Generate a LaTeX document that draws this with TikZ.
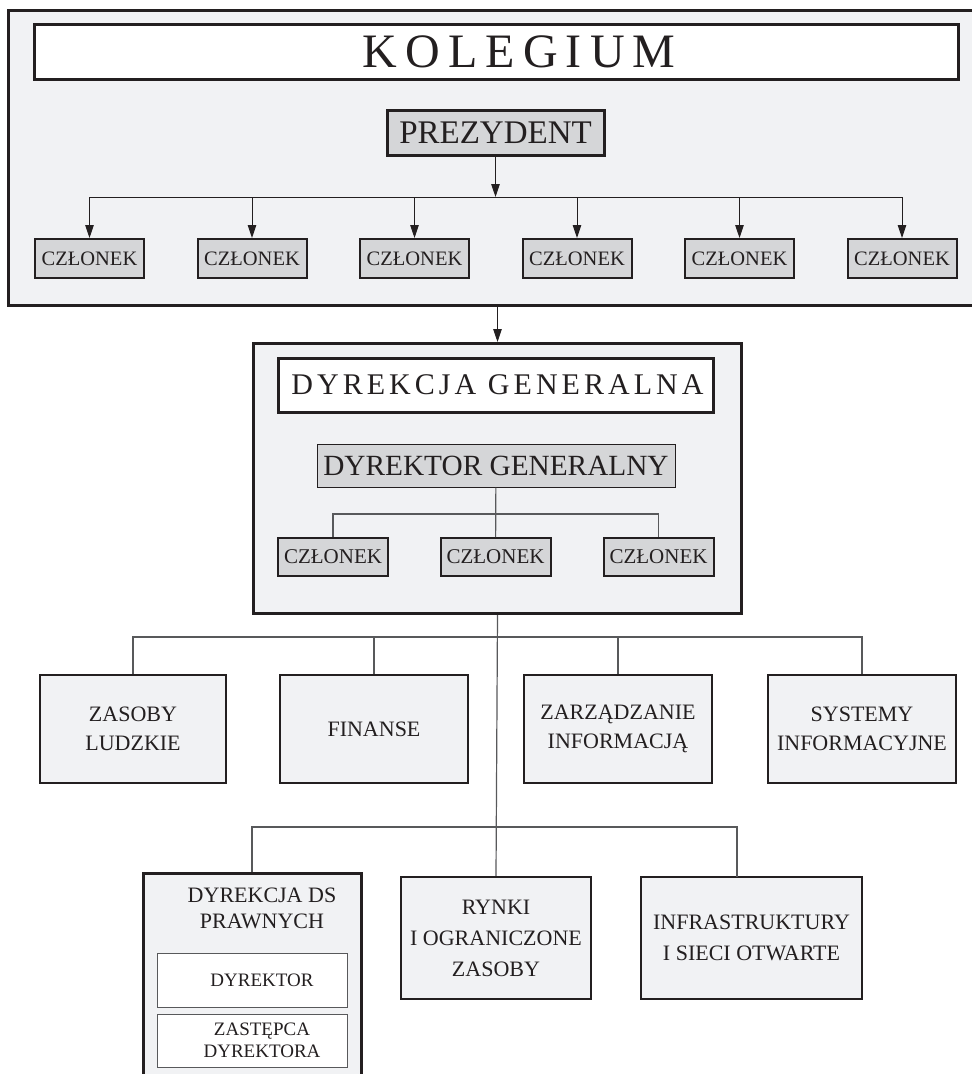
\documentclass[tikz,border=0pt]{standalone}
\usepackage{fontspec}
\setmainfont{Liberation Serif}
\newfontfamily\kolfont[LetterSpace=17]{Liberation Serif}
\newfontfamily\dgfont[LetterSpace=13.5]{Liberation Serif}
\usetikzlibrary{arrows.meta,positioning}
\definecolor{ink}{HTML}{231F20}
\definecolor{panel}{HTML}{F1F2F4}
\definecolor{shade}{HTML}{D5D6D8}
\definecolor{wire}{HTML}{58595B}
\tikzset{
  every node/.style={text=ink},
  frame/.style={draw=ink, line width=3pt, fill=panel, inner sep=0pt},
  title/.style={draw=ink, line width=3pt, fill=white, inner sep=0pt},
  chief/.style={draw=ink, line width=3pt, fill=shade, inner sep=0pt},
  member/.style={draw=ink, line width=2pt, fill=shade, inner sep=0pt,
    minimum width=109pt, minimum height=39pt, font=\fontsize{20.5}{24}\selectfont},
  dept/.style={draw=ink, line width=2.5pt, fill=panel, inner sep=0pt, align=center,
    minimum width=188pt, font=\fontsize{22}{29}\selectfont},
  sub/.style={draw=wire, line width=1pt, fill=white, inner sep=0pt, align=center,
    minimum width=190pt, font=\fontsize{19}{22}\selectfont},
  link/.style={draw=wire, line width=1.2pt},
  arr/.style={draw=ink, line width=1pt, -{Triangle[length=13pt,width=8.5pt]}},
}
\begin{document}
\begin{tikzpicture}[x=1pt,y=-1pt]
\useasboundingbox (0,0) rectangle (972,1074);
\fill[white] (0,0) rectangle (972,1074);

% kolegium
\node[frame, anchor=north west, minimum width=980pt, minimum height=295pt] (kol) at (7,9) {};
\node[title, minimum width=924pt, minimum height=55pt, font=\kolfont\fontsize{48}{52}\selectfont] (kolt) at (496,51.5) {\hspace*{46pt}KOLEGIUM};
\node[chief, minimum width=217pt, minimum height=45pt, font=\fontsize{33}{36}\selectfont] (prez) at (495.5,132.5) {PREZYDENT};
\coordinate (bus) at (495.5,197);
\foreach \i in {1,...,6}
  \node[member] (m\i) at ({89.5+162.5*(\i-1)},258.5) {CZŁONEK};
\draw[arr] (prez) -- (bus);
\draw[draw=ink, line width=1pt] (bus -| m1) -- (bus -| m6);
\foreach \i in {1,...,6}
  \draw[arr] (bus -| m\i) -- (m\i);

% dyrekcja generalna
\node[frame, anchor=north west, minimum width=488pt, minimum height=270pt] (dg) at (252,342) {};
\draw[arr] (kol.south -| dg.north) -- (dg.north);
\node[title, minimum width=435pt, minimum height=54pt, font=\dgfont\fontsize{30}{34}\selectfont] (dgt) at (495.5,385) {\hspace*{4pt}DYREKCJA GENERALNA};
\node[chief, line width=1pt, minimum width=358pt, minimum height=43pt, font=\fontsize{29.3}{32}\selectfont] (dyr) at (496,465.5) {DYREKTOR GENERALNY};
\coordinate (dbus) at (496,514);
\foreach \x [count=\i] in {333,495.5,658.5}
  \node[member, minimum width=110pt, minimum height=38pt, font=\fontsize{21}{24}\selectfont] (d\i) at (\x,557) {CZŁONEK};
\draw[link] (dyr) -- (d2);
\draw[link] (d1.north) |- (dbus) -| (d3.north);

% departamenty
\coordinate (bus1) at (496,637);
\coordinate (bus2) at (496,827);
\node[dept, minimum width=186pt, minimum height=108pt] (hr) at (133,729) {ZASOBY\\LUDZKIE};
\node[dept, minimum height=108pt] (fin) at (374,729) {FINANSE};
\node[dept, minimum height=108pt] (inf) at (618,729) {ZARZĄDZANIE\\INFORMACJĄ};
\node[dept, minimum height=108pt] (sys) at (862,729) {SYSTEMY\\INFORMACYJNE};
\node[dept, minimum width=190pt, minimum height=122pt, font=\fontsize{22}{31}\selectfont] (ryn) at (496,938) {RYNKI\\I OGRANICZONE\\ZASOBY};
\node[dept, minimum width=221pt, minimum height=122pt, font=\fontsize{22}{31}\selectfont] (infra) at (751.5,938) {INFRASTRUKTURY\\I SIECI OTWARTE};
\coordinate (itop) at (737,877);
\draw[link] (dg.south) -- (ryn.north);
\draw[link] (hr.north) |- (bus1) -| (sys.north);
\draw[link] (fin.north) -- (fin.north |- bus1);
\draw[link] (inf.north) -- (inf.north |- bus1);

% dyrekcja ds prawnych
\node[frame, anchor=north, minimum width=218pt, minimum height=230pt] (ds) at (252,872) {};
\draw[link] (ds.north) |- (bus2) -| (itop);
\node[font=\fontsize{22}{26}\selectfont, align=center, inner sep=0pt] (dst) at (262,908) {DYREKCJA DS\\PRAWNYCH};
\node[sub, minimum height=54pt] (dsd) at (252,980) {\hspace*{20pt}DYREKTOR};
\node[sub, minimum height=53pt] (dsz) at (252,1040.5) {\hspace*{20pt}ZASTĘPCA\\\hspace*{20pt}DYREKTORA};
\end{tikzpicture}
\end{document}
